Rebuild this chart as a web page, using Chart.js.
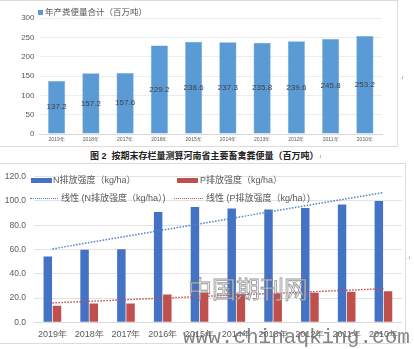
<!DOCTYPE html>
<html>
<head>
<meta charset="utf-8">
<script src="https://cdn.jsdelivr.net/npm/chart.js@4.4.1/dist/chart.umd.min.js"></script>
<style>
  body { margin: 0; width: 414px; height: 349px; overflow: hidden; background: #fff; position: relative;
         font-family: "Liberation Sans", Arial, "Noto Sans CJK SC", sans-serif; color: #595959; }
  .abs { position: absolute; }
  .box { position: absolute; box-sizing: border-box; border: 1px solid #dcdcdc; }
  .txt { position: absolute; white-space: nowrap; line-height: 1; }
  .sw  { position: absolute; }
  .dots { position: absolute; height: 0; border-top: 1.5px dotted; }
</style>
</head>
<body>
<div class="box" style="left:-2px;top:0;width:400px;height:147px"></div>
<div class="box" style="left:-2px;top:163px;width:408px;height:181px"></div>

<canvas id="totalChart" class="abs" style="left:0;top:0"></canvas>
<canvas id="intensityChart" class="abs" style="left:0;top:163px"></canvas>

<!-- top legend -->
<div class="sw" style="left:38px;top:10px;width:5px;height:5px;background:#5b9bd5"></div>
<div class="txt" style="left:45px;top:8px;font-size:8.5px">年产粪便量合计（百万吨）</div>

<!-- caption -->
<div class="txt" style="left:90px;top:152px;font-size:9px;font-weight:bold;color:#222">图 2&nbsp; 按期末存栏量测算河南省主要畜禽粪便量（百万吨）</div>
<div class="txt" style="left:318px;top:153px;font-size:6px;color:#888">.ı</div>
<div class="txt" style="left:400px;top:74px;font-size:6px;color:#888">.ı</div>
<div class="txt" style="left:407px;top:254px;font-size:6px;color:#888">.ı</div>

<!-- bottom legend -->
<div class="sw" style="left:31px;top:178px;width:21px;height:5px;background:#4472c4"></div>
<div class="txt" style="left:53px;top:176px;font-size:9px">N排放强度（kg/ha）</div>
<div class="sw" style="left:177px;top:178px;width:21px;height:5px;background:#c0504d"></div>
<div class="txt" style="left:200px;top:176px;font-size:9px">P排放强度（kg/ha）</div>
<div class="dots" style="left:30px;top:198px;width:28px;border-color:#4f81c4"></div>
<div class="txt" style="left:61px;top:194px;font-size:9px">线性 (N排放强度（kg/ha）)</div>
<div class="dots" style="left:174px;top:198px;width:29px;border-color:#c0504d"></div>
<div class="txt" style="left:206px;top:194px;font-size:9px">线性 (P排放强度（kg/ha）)</div>

<!-- watermark -->
<div class="txt" style="left:188px;top:276px;font-size:24px;font-family:'Noto Sans CJK SC',sans-serif;color:rgba(255,255,255,0.55);-webkit-text-stroke:0.8px rgba(110,110,110,0.75)">中国期刊网</div>
<div class="txt" style="left:183px;top:327px;font-size:21px;font-family:'Liberation Mono',monospace;color:rgba(110,110,110,0.85)">www.chinaqking.com</div>

<script>
// ---------------- data ----------------
const years = ['2019年', '2018年', '2017年', '2016年', '2015年', '2014年', '2013年', '2012年', '2011年', '2010年'];

// top chart: annual manure total (million tonnes)
const totalManure = [137.2, 157.2, 157.6, 229.2, 238.6, 237.3, 235.8, 239.6, 245.8, 253.2];
const totalAxis   = { min: 0, max: 300, step: 50 };

// bottom chart: N / P emission intensity (kg/ha)
const nIntensity = [54.2, 59.7, 60.2, 91.0, 95.1, 93.7, 92.9, 94.3, 97.0, 100.0];
const pIntensity = [13.6, 15.5, 15.5, 22.9, 24.3, 23.5, 23.7, 24.3, 25.1, 25.6];
// linear trend lines, endpoints
const nTrend = [60.5, null, null, null, null, null, null, null, null, 107.0];
const pTrend = [16.0, null, null, null, null, null, null, null, null, 27.7];
const intensityAxis = { min: 0, max: 120, step: 20 };

const GREY = '#595959';

// --------------- value labels inside top bars ---------------
const barLabels = {
  id: 'barLabels',
  afterDatasetsDraw(chart) {
    const ctx  = chart.ctx;
    const meta = chart.getDatasetMeta(0);
    ctx.save();
    ctx.font = '8px "Liberation Sans Narrow", "Liberation Sans", sans-serif';
    ctx.fillStyle = '#404040';
    ctx.textAlign = 'center';
    ctx.textBaseline = 'middle';
    meta.data.forEach((bar, i) => {
      ctx.fillText(totalManure[i].toFixed(1), bar.x, (bar.y + bar.base) / 2);
    });
    ctx.restore();
  },
};

// --------------- top chart ---------------
const c1 = document.getElementById('totalChart');
c1.width = 398; c1.height = 147;
new Chart(c1, {
  type: 'bar',
  data: {
    labels: years,
    datasets: [{
      data: totalManure,
      backgroundColor: '#5b9bd5',
      borderColor: '#6ea7db',
      borderWidth: 0.5,
      categoryPercentage: 1,
      barPercentage: 0.5,
    }],
  },
  options: {
    responsive: false,
    animation: false,
    layout: { padding: { left: 0, right: 16, top: 18, bottom: 0 } },
    plugins: { legend: { display: false }, tooltip: { enabled: false } },
    scales: {
      x: {
        grid:   { display: false, drawTicks: false },
        border: { color: '#d9d9d9' },
        ticks:  { font: { size: 5 }, color: GREY, padding: 3, maxRotation: 0, autoSkip: false },
        afterFit: s => { s.height = 13; },
      },
      y: {
        min: totalAxis.min, max: totalAxis.max,
        grid:   { color: '#ececec', drawTicks: false },
        border: { display: false },
        ticks:  { stepSize: totalAxis.step, font: { size: 8 }, color: GREY, padding: 5 },
        afterFit: s => { s.width = 39.5; },
      },
    },
  },
  plugins: [barLabels],
});

// --------------- bottom chart ---------------
const c2 = document.getElementById('intensityChart');
c2.width = 405; c2.height = 181;
new Chart(c2, {
  type: 'bar',
  data: {
    labels: years,
    datasets: [
      { type: 'line', data: nTrend, borderColor: '#4f81c4', borderWidth: 1.5, borderDash: [1.5, 1.5],
        pointRadius: 0, spanGaps: true, fill: false, order: 0 },
      { type: 'line', data: pTrend, borderColor: '#c0504d', borderWidth: 1.5, borderDash: [1.5, 1.5],
        pointRadius: 0, spanGaps: true, fill: false, order: 0 },
      { data: nIntensity, backgroundColor: '#4472c4', categoryPercentage: 0.5, barPercentage: 0.92, order: 1 },
      { data: pIntensity, backgroundColor: '#c0504d', categoryPercentage: 0.5, barPercentage: 0.92, order: 1 },
    ],
  },
  options: {
    responsive: false,
    animation: false,
    layout: { padding: { left: 0, right: 1, top: 13.7, bottom: 0 } },
    plugins: { legend: { display: false }, tooltip: { enabled: false } },
    scales: {
      x: {
        grid:   { display: false, drawTicks: false },
        border: { color: '#d9d9d9' },
        ticks:  { font: { size: 9 }, color: GREY, padding: 7, maxRotation: 0, autoSkip: false },
        afterFit: s => { s.height = 21.7; },
      },
      y: {
        min: intensityAxis.min, max: intensityAxis.max,
        grid:   { color: '#e3e3e3', drawTicks: false },
        border: { display: false },
        ticks:  { stepSize: intensityAxis.step, font: { size: 8.5 }, color: GREY, padding: 8,
                  callback: v => v.toFixed(1) },
        afterFit: s => { s.width = 34; },
      },
    },
  },
});
</script>
</body>
</html>
